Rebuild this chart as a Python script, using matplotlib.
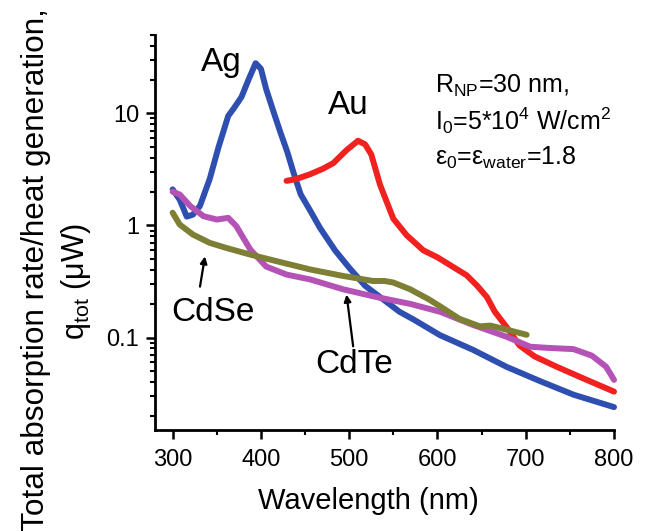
import numpy as np
import matplotlib
matplotlib.use("Agg")
import matplotlib.pyplot as plt
from matplotlib.ticker import LogLocator, FixedLocator, MultipleLocator, NullFormatter

plt.rcParams['font.family'] = ['Liberation Sans', 'DejaVu Sans']
plt.rcParams['mathtext.fontset'] = 'custom'
plt.rcParams['mathtext.rm'] = 'Liberation Sans'
plt.rcParams['mathtext.it'] = 'Liberation Sans:italic'

# absorption spectra, q_tot in uW vs wavelength in nm
ag_wl = [300, 308, 316, 323, 331, 342, 352, 363, 369, 378, 386, 394, 400, 406, 414, 422,
         430, 437, 445, 456, 467, 484, 500, 518, 535, 557, 573, 603, 640, 678, 716, 754, 800]
ag_q = [2.1, 1.7, 1.2, 1.25, 1.5, 2.6, 5.0, 9.5, 11.0, 14.0, 20.0, 28.0, 25.0, 16.4, 10.5, 6.8,
        4.5, 2.95, 1.9, 1.35, 0.95, 0.6, 0.42, 0.29, 0.23, 0.17, 0.145, 0.105, 0.078, 0.055,
        0.041, 0.031, 0.024]

au_wl = [429, 440, 455, 470, 482, 497, 510, 518, 525, 535, 550, 565, 584, 600, 615, 633,
         645, 656, 665, 678, 693, 710, 735, 769, 800]
au_q = [2.5, 2.6, 2.85, 3.2, 3.6, 4.7, 5.7, 5.3, 4.3, 2.3, 1.15, 0.82, 0.6, 0.52, 0.44, 0.36,
        0.29, 0.23, 0.17, 0.125, 0.085, 0.068, 0.055, 0.042, 0.033]

cdse_wl = [300, 308, 323, 342, 361, 388, 418, 456, 493, 527, 540, 550, 569, 590, 603, 625,
           648, 660, 678, 701]
cdse_q = [1.3, 1.02, 0.83, 0.70, 0.63, 0.55, 0.48, 0.405, 0.355, 0.32, 0.32, 0.31, 0.27, 0.22,
          0.19, 0.147, 0.126, 0.128, 0.118, 0.106]

cdte_wl = [300, 308, 320, 335, 350, 363, 372, 388, 406, 429, 456, 493, 531, 569, 603, 640,
           678, 705, 725, 754, 775, 791, 800]
cdte_q = [2.0, 1.89, 1.49, 1.21, 1.13, 1.17, 0.99, 0.61, 0.43, 0.365, 0.33, 0.27, 0.23, 0.2,
          0.17, 0.13, 0.102, 0.083, 0.081, 0.079, 0.069, 0.055, 0.042]

x_ticks = [300, 400, 500, 600, 700, 800]
y_ticks = [0.1, 1, 10]
y_ticklabels = ['0.1', '1', '10']

fig = plt.figure(figsize=(6.46, 5.31), dpi=100)
ax = fig.add_axes([0.2399, 0.1902, 0.7106, 0.7439])

lw = 4.3
ax.plot(ag_wl, ag_q, color='#2f4fb0', lw=lw, solid_capstyle='round', clip_on=False, zorder=3)
ax.plot(au_wl, au_q, color='#f0211f', lw=lw, solid_capstyle='round', clip_on=False, zorder=4)
ax.plot(cdte_wl, cdte_q, color='#b552b5', lw=lw, solid_capstyle='round', clip_on=False, zorder=5)
ax.plot(cdse_wl, cdse_q, color='#7d7f34', lw=lw, solid_capstyle='round', clip_on=False, zorder=6)

ax.set_yscale('log')
ax.set_xlim(280, 800)
ax.set_ylim(0.015, 50)

ax.xaxis.set_major_locator(FixedLocator(x_ticks))
ax.xaxis.set_minor_locator(MultipleLocator(50))
ax.yaxis.set_major_locator(FixedLocator(y_ticks))
ax.set_yticklabels(y_ticklabels)
ax.yaxis.set_minor_locator(LogLocator(base=10, subs=np.arange(2, 10)))
ax.yaxis.set_minor_formatter(NullFormatter())

for s in ['top', 'right']:
    ax.spines[s].set_visible(False)
for s in ['left', 'bottom']:
    ax.spines[s].set_linewidth(2)

ax.tick_params(which='major', direction='out', length=6.5, width=1.8, labelsize=17)
ax.tick_params(which='minor', direction='out', length=3.5, width=1.5)
ax.tick_params(axis='x', which='major', pad=7)
ax.tick_params(axis='y', which='major', pad=5)

ax.set_xlabel('Wavelength (nm)', fontsize=21)
ax.xaxis.set_label_coords(0.464, -0.145)

fig.text(0.056, 0.493, 'Total absorption rate/heat generation,', rotation=90,
         ha='center', va='center', fontsize=22.7)
fig.text(0.118, 0.47, r'q$_{\mathrm{tot}}$ (μW)', rotation=90,
         ha='center', va='center', fontsize=22)

# curve labels
ax.text(354.7, 23.7, 'Ag', fontsize=24, ha='center', va='baseline')
ax.text(498.5, 9.8, 'Au', fontsize=24, ha='center', va='baseline')
ax.text(299, 0.142, 'CdSe', fontsize=24, ha='left', va='baseline')
ax.text(462, 0.0487, 'CdTe', fontsize=24, ha='left', va='baseline')

arrow = dict(arrowstyle='-|>', color='k', lw=1.6, mutation_scale=10, shrinkA=0, shrinkB=0)
ax.annotate('', xy=(336.6, 0.53), xytext=(331, 0.285), arrowprops=arrow)
ax.annotate('', xy=(497, 0.242), xytext=(504.5, 0.0836), arrowprops=arrow)

# simulation parameters
ax.text(0.61, 0.853, r'R$_{\mathrm{NP}}$=30 nm,', transform=ax.transAxes, fontsize=18, va='baseline')
ax.text(0.61, 0.759, r'I$_{\mathrm{0}}$=5*10$^{\mathrm{4}}$ W/cm$^{\mathrm{2}}$', transform=ax.transAxes,
        fontsize=18, va='baseline')
ax.text(0.61, 0.671, r'ε$_{\mathrm{0}}$=ε$_{\mathrm{water}}$=1.8', transform=ax.transAxes,
        fontsize=18, va='baseline')

fig.savefig('out.png', dpi=100)
